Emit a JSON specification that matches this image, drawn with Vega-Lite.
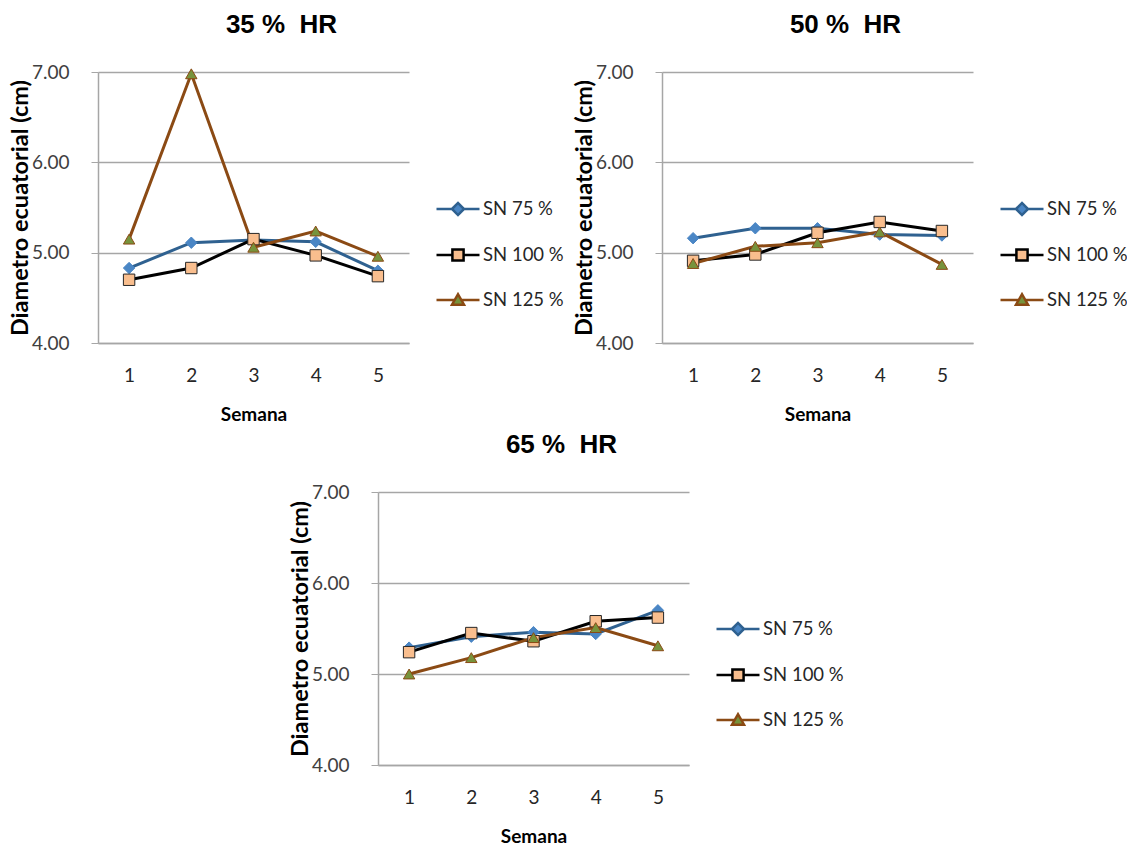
{
"$schema": "https://vega.github.io/schema/vega-lite/v6.json",
"autosize": {"type": "pad"},
"padding": {"left": 8, "top": 12, "right": 0, "bottom": 0},
"config": {"view": {"stroke": null}, "font": "Lato"},
"data": {"values": [
{"hr":"35","serie":"SN 75 %","semana":1,"valor":4.83},
{"hr":"35","serie":"SN 75 %","semana":2,"valor":5.11},
{"hr":"35","serie":"SN 75 %","semana":3,"valor":5.14},
{"hr":"35","serie":"SN 75 %","semana":4,"valor":5.12},
{"hr":"35","serie":"SN 75 %","semana":5,"valor":4.80},
{"hr":"35","serie":"SN 100 %","semana":1,"valor":4.70},
{"hr":"35","serie":"SN 100 %","semana":2,"valor":4.83},
{"hr":"35","serie":"SN 100 %","semana":3,"valor":5.15},
{"hr":"35","serie":"SN 100 %","semana":4,"valor":4.97},
{"hr":"35","serie":"SN 100 %","semana":5,"valor":4.74},
{"hr":"35","serie":"SN 125 %","semana":1,"valor":5.15},
{"hr":"35","serie":"SN 125 %","semana":2,"valor":6.98},
{"hr":"35","serie":"SN 125 %","semana":3,"valor":5.06},
{"hr":"35","serie":"SN 125 %","semana":4,"valor":5.24},
{"hr":"35","serie":"SN 125 %","semana":5,"valor":4.96},
{"hr":"50","serie":"SN 75 %","semana":1,"valor":5.16},
{"hr":"50","serie":"SN 75 %","semana":2,"valor":5.27},
{"hr":"50","serie":"SN 75 %","semana":3,"valor":5.27},
{"hr":"50","serie":"SN 75 %","semana":4,"valor":5.20},
{"hr":"50","serie":"SN 75 %","semana":5,"valor":5.19},
{"hr":"50","serie":"SN 100 %","semana":1,"valor":4.91},
{"hr":"50","serie":"SN 100 %","semana":2,"valor":4.98},
{"hr":"50","serie":"SN 100 %","semana":3,"valor":5.22},
{"hr":"50","serie":"SN 100 %","semana":4,"valor":5.34},
{"hr":"50","serie":"SN 100 %","semana":5,"valor":5.24},
{"hr":"50","serie":"SN 125 %","semana":1,"valor":4.88},
{"hr":"50","serie":"SN 125 %","semana":2,"valor":5.07},
{"hr":"50","serie":"SN 125 %","semana":3,"valor":5.11},
{"hr":"50","serie":"SN 125 %","semana":4,"valor":5.23},
{"hr":"50","serie":"SN 125 %","semana":5,"valor":4.87},
{"hr":"65","serie":"SN 75 %","semana":1,"valor":5.29},
{"hr":"65","serie":"SN 75 %","semana":2,"valor":5.41},
{"hr":"65","serie":"SN 75 %","semana":3,"valor":5.46},
{"hr":"65","serie":"SN 75 %","semana":4,"valor":5.44},
{"hr":"65","serie":"SN 75 %","semana":5,"valor":5.70},
{"hr":"65","serie":"SN 100 %","semana":1,"valor":5.24},
{"hr":"65","serie":"SN 100 %","semana":2,"valor":5.45},
{"hr":"65","serie":"SN 100 %","semana":3,"valor":5.36},
{"hr":"65","serie":"SN 100 %","semana":4,"valor":5.58},
{"hr":"65","serie":"SN 100 %","semana":5,"valor":5.62},
{"hr":"65","serie":"SN 125 %","semana":1,"valor":5.00},
{"hr":"65","serie":"SN 125 %","semana":2,"valor":5.18},
{"hr":"65","serie":"SN 125 %","semana":3,"valor":5.40},
{"hr":"65","serie":"SN 125 %","semana":4,"valor":5.51},
{"hr":"65","serie":"SN 125 %","semana":5,"valor":5.31}
]},
"center": true,
"spacing": 8,
"resolve": {"scale": {"x":"independent","y":"independent","color":"independent","fill":"independent","stroke":"independent","shape":"independent"}, "legend": {"color":"independent","fill":"independent","stroke":"independent","shape":"independent"}},
"vconcat": [
{
"hconcat": [
{
"width": 311, "height": 271,
"title": {"text": "35 %\u00a0 HR", "font": "Liberation Sans", "fontSize": 26, "fontWeight": "bold", "color": "#000000", "anchor": "middle", "dx": 28, "offset": 25},
"transform": [{"filter": "datum.hr === '35'"}],
"layer": [
{"mark": {"type": "line", "strokeWidth": 3},
"encoding": {
"x": {"field": "semana", "type": "ordinal", "axis": {"labelAngle": 0, "ticks": false, "domainColor": "#a6a6a6", "domainWidth": 1.5, "grid": false, "labelFont": "Lato", "labelFontSize": 19, "labelColor": "#262626", "labelPadding": 23, "title": "Semana", "titleFont": "Lato", "titleFontSize": 19, "titleFontWeight": "bold", "titleColor": "#000000", "titlePadding": 20}},
"y": {"field": "valor", "type": "quantitative", "scale": {"domain": [4, 7], "nice": false, "zero": false}, "axis": {"values": [4, 5, 6, 7], "format": ".2f", "domainColor": "#a6a6a6", "domainWidth": 1.5, "tickColor": "#a6a6a6", "tickSize": 7, "gridColor": "#a6a6a6", "gridWidth": 1.5, "labelFont": "Lato", "labelFontSize": 19, "labelColor": "#404040", "labelPadding": 22, "title": "Diametro ecuatorial (cm)", "titleFont": "Lato", "titleFontSize": 23.5, "titleFontWeight": "bold", "titleColor": "#000000", "titlePadding": -1}},
"color": {"field": "serie", "type": "nominal", "scale": {"domain": ["SN 75 %", "SN 100 %", "SN 125 %"], "range": ["#2F6190", "#000000", "#8B4A14"]}, "legend": {"orient": "none", "legendX": 337, "legendY": 114, "title": null, "symbolSize": 1849, "symbolStrokeWidth": 2.5, "labelFont": "Lato", "labelFontSize": 18.5, "labelColor": "#262626", "labelOffset": 2, "rowPadding": 11, "padding": 0, "encode": {"symbols": {"update": {"shape": {"signal": "datum.value === 'SN 75 %' ? 'M-1,0L-0.28,0M0.28,0L1,0M-0.28,0L0,-0.28L0.28,0L0,0.28Z' : datum.value === 'SN 100 %' ? 'M-1,0L-0.26,0M0.26,0L1,0M-0.26,-0.26L0.26,-0.26L0.26,0.26L-0.26,0.26Z' : 'M-1,0L-0.15,0M0.15,0L1,0M-0.28,0.22L0.28,0.22L0,-0.27Z'"}, "fill": {"signal": "datum.value === 'SN 75 %' ? '#4A86C5' : datum.value === 'SN 100 %' ? '#F9BE8E' : '#77933C'"}, "strokeWidth": {"value": 2.5}, "opacity": {"value": 1}}}}}}
}},
{"mark": {"type": "point", "filled": true, "size": 130, "strokeWidth": 1, "opacity": 1},
"encoding": {
"x": {"field": "semana", "type": "ordinal"},
"y": {"field": "valor", "type": "quantitative"},
"fill": {"field": "serie", "type": "nominal", "sort": ["SN 75 %", "SN 100 %", "SN 125 %"], "scale": {"range": ["#4A86C5", "#F9BE8E", "#77933C"]}, "legend": null},
"stroke": {"field": "serie", "type": "nominal", "sort": ["SN 75 %", "SN 100 %", "SN 125 %"], "scale": {"range": ["#4A86C5", "#262626", "#8B4A14"]}, "legend": null},
"shape": {"field": "serie", "type": "nominal", "sort": ["SN 75 %", "SN 100 %", "SN 125 %"], "scale": {"range": ["diamond", "square", "triangle-up"]}, "legend": null}
}}
]
},
{
"width": 311, "height": 271,
"title": {"text": "50 %\u00a0 HR", "font": "Liberation Sans", "fontSize": 26, "fontWeight": "bold", "color": "#000000", "anchor": "middle", "dx": 28, "offset": 25},
"transform": [{"filter": "datum.hr === '50'"}],
"layer": [
{"mark": {"type": "line", "strokeWidth": 3},
"encoding": {
"x": {"field": "semana", "type": "ordinal", "axis": {"labelAngle": 0, "ticks": false, "domainColor": "#a6a6a6", "domainWidth": 1.5, "grid": false, "labelFont": "Lato", "labelFontSize": 19, "labelColor": "#262626", "labelPadding": 23, "title": "Semana", "titleFont": "Lato", "titleFontSize": 19, "titleFontWeight": "bold", "titleColor": "#000000", "titlePadding": 20}},
"y": {"field": "valor", "type": "quantitative", "scale": {"domain": [4, 7], "nice": false, "zero": false}, "axis": {"values": [4, 5, 6, 7], "format": ".2f", "domainColor": "#a6a6a6", "domainWidth": 1.5, "tickColor": "#a6a6a6", "tickSize": 7, "gridColor": "#a6a6a6", "gridWidth": 1.5, "labelFont": "Lato", "labelFontSize": 19, "labelColor": "#404040", "labelPadding": 22, "title": "Diametro ecuatorial (cm)", "titleFont": "Lato", "titleFontSize": 23.5, "titleFontWeight": "bold", "titleColor": "#000000", "titlePadding": -1}},
"color": {"field": "serie", "type": "nominal", "scale": {"domain": ["SN 75 %", "SN 100 %", "SN 125 %"], "range": ["#2F6190", "#000000", "#8B4A14"]}, "legend": {"orient": "none", "legendX": 337, "legendY": 114, "title": null, "symbolSize": 1849, "symbolStrokeWidth": 2.5, "labelFont": "Lato", "labelFontSize": 18.5, "labelColor": "#262626", "labelOffset": 2, "rowPadding": 11, "padding": 0, "encode": {"symbols": {"update": {"shape": {"signal": "datum.value === 'SN 75 %' ? 'M-1,0L-0.28,0M0.28,0L1,0M-0.28,0L0,-0.28L0.28,0L0,0.28Z' : datum.value === 'SN 100 %' ? 'M-1,0L-0.26,0M0.26,0L1,0M-0.26,-0.26L0.26,-0.26L0.26,0.26L-0.26,0.26Z' : 'M-1,0L-0.15,0M0.15,0L1,0M-0.28,0.22L0.28,0.22L0,-0.27Z'"}, "fill": {"signal": "datum.value === 'SN 75 %' ? '#4A86C5' : datum.value === 'SN 100 %' ? '#F9BE8E' : '#77933C'"}, "strokeWidth": {"value": 2.5}, "opacity": {"value": 1}}}}}}
}},
{"mark": {"type": "point", "filled": true, "size": 130, "strokeWidth": 1, "opacity": 1},
"encoding": {
"x": {"field": "semana", "type": "ordinal"},
"y": {"field": "valor", "type": "quantitative"},
"fill": {"field": "serie", "type": "nominal", "sort": ["SN 75 %", "SN 100 %", "SN 125 %"], "scale": {"range": ["#4A86C5", "#F9BE8E", "#77933C"]}, "legend": null},
"stroke": {"field": "serie", "type": "nominal", "sort": ["SN 75 %", "SN 100 %", "SN 125 %"], "scale": {"range": ["#4A86C5", "#262626", "#8B4A14"]}, "legend": null},
"shape": {"field": "serie", "type": "nominal", "sort": ["SN 75 %", "SN 100 %", "SN 125 %"], "scale": {"range": ["diamond", "square", "triangle-up"]}, "legend": null}
}}
]
}
],
"spacing": 8,
"resolve": {"scale": {"x":"independent","y":"independent","color":"independent","fill":"independent","stroke":"independent","shape":"independent"}, "legend": {"color":"independent","fill":"independent","stroke":"independent","shape":"independent"}}
},
{
"width": 311, "height": 273,
"title": {"text": "65 %\u00a0 HR", "font": "Liberation Sans", "fontSize": 26, "fontWeight": "bold", "color": "#000000", "anchor": "middle", "dx": 28, "offset": 25},
"transform": [{"filter": "datum.hr === '65'"}],
"layer": [
{"mark": {"type": "line", "strokeWidth": 3},
"encoding": {
"x": {"field": "semana", "type": "ordinal", "axis": {"labelAngle": 0, "ticks": false, "domainColor": "#a6a6a6", "domainWidth": 1.5, "grid": false, "labelFont": "Lato", "labelFontSize": 19, "labelColor": "#262626", "labelPadding": 23, "title": "Semana", "titleFont": "Lato", "titleFontSize": 19, "titleFontWeight": "bold", "titleColor": "#000000", "titlePadding": 20}},
"y": {"field": "valor", "type": "quantitative", "scale": {"domain": [4, 7], "nice": false, "zero": false}, "axis": {"values": [4, 5, 6, 7], "format": ".2f", "domainColor": "#a6a6a6", "domainWidth": 1.5, "tickColor": "#a6a6a6", "tickSize": 7, "gridColor": "#a6a6a6", "gridWidth": 1.5, "labelFont": "Lato", "labelFontSize": 19, "labelColor": "#404040", "labelPadding": 22, "title": "Diametro ecuatorial (cm)", "titleFont": "Lato", "titleFontSize": 23.5, "titleFontWeight": "bold", "titleColor": "#000000", "titlePadding": -1}},
"color": {"field": "serie", "type": "nominal", "scale": {"domain": ["SN 75 %", "SN 100 %", "SN 125 %"], "range": ["#2F6190", "#000000", "#8B4A14"]}, "legend": {"orient": "none", "legendX": 333, "legendY": 110, "title": null, "symbolSize": 1849, "symbolStrokeWidth": 2.5, "labelFont": "Lato", "labelFontSize": 18.5, "labelColor": "#262626", "labelOffset": 2, "rowPadding": 11, "padding": 4, "encode": {"symbols": {"update": {"shape": {"signal": "datum.value === 'SN 75 %' ? 'M-1,0L-0.28,0M0.28,0L1,0M-0.28,0L0,-0.28L0.28,0L0,0.28Z' : datum.value === 'SN 100 %' ? 'M-1,0L-0.26,0M0.26,0L1,0M-0.26,-0.26L0.26,-0.26L0.26,0.26L-0.26,0.26Z' : 'M-1,0L-0.15,0M0.15,0L1,0M-0.28,0.22L0.28,0.22L0,-0.27Z'"}, "fill": {"signal": "datum.value === 'SN 75 %' ? '#4A86C5' : datum.value === 'SN 100 %' ? '#F9BE8E' : '#77933C'"}, "strokeWidth": {"value": 2.5}, "opacity": {"value": 1}}}}}}
}},
{"mark": {"type": "point", "filled": true, "size": 130, "strokeWidth": 1, "opacity": 1},
"encoding": {
"x": {"field": "semana", "type": "ordinal"},
"y": {"field": "valor", "type": "quantitative"},
"fill": {"field": "serie", "type": "nominal", "sort": ["SN 75 %", "SN 100 %", "SN 125 %"], "scale": {"range": ["#4A86C5", "#F9BE8E", "#77933C"]}, "legend": null},
"stroke": {"field": "serie", "type": "nominal", "sort": ["SN 75 %", "SN 100 %", "SN 125 %"], "scale": {"range": ["#4A86C5", "#262626", "#8B4A14"]}, "legend": null},
"shape": {"field": "serie", "type": "nominal", "sort": ["SN 75 %", "SN 100 %", "SN 125 %"], "scale": {"range": ["diamond", "square", "triangle-up"]}, "legend": null}
}}
]
}
]
}
